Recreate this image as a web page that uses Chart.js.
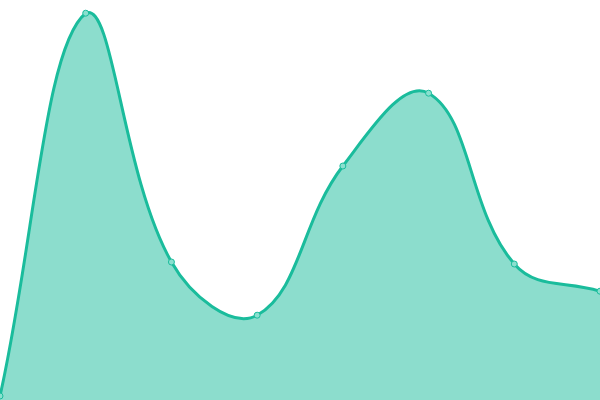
<!DOCTYPE html>
<html>
<head>
<meta charset="utf-8">
<script src="https://cdn.jsdelivr.net/npm/chart.js@4"></script>
<style>
  html, body { margin: 0; padding: 0; background: #fff; }
  #wrap { width: 600px; height: 400px; }
</style>
</head>
<body>
<div id="wrap"><canvas id="area_chart"></canvas></div>
<script>
const labels = ["1", "2", "3", "4", "5", "6", "7", "8"];
const values = [1, 96.7, 34.5, 21.2, 58.5, 76.7, 34, 27.2];

(function () {
  const ctx = document.getElementById("area_chart");

  const data = {
    labels: labels,
    datasets: [
      {
        data: values,
        fill: true,
        backgroundColor: "rgba(26, 188, 156, 0.5)",
        borderColor: "rgb(26, 188, 156)",
        borderWidth: 3,
        tension: 0.4,
        pointRadius: 3,
        pointBorderWidth: 1,
        pointBackgroundColor: "rgb(138, 224, 207)",
        pointBorderColor: "rgb(26, 188, 156)",
      },
    ],
  };

  new Chart(ctx, {
    type: "line",
    data: data,
    options: {
      responsive: true,
      maintainAspectRatio: false,
      animation: false,
      layout: { padding: 0, autoPadding: false },
      scales: {
        x: { display: false },
        y: { display: false, min: 0, max: 100 },
      },
      plugins: {
        legend: { display: false },
        tooltip: { enabled: false },
      },
    },
  });
})();
</script>
</body>
</html>
